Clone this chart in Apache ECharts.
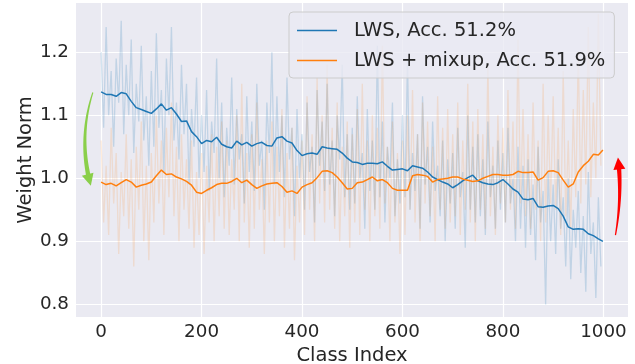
<!DOCTYPE html>
<html>
<head>
<meta charset="utf-8">
<script src="https://cdn.jsdelivr.net/npm/echarts@6/dist/echarts.min.js"></script>
<style>
  html, body { margin: 0; padding: 0; background: #ffffff; }
  #chart { width: 635px; height: 364px; }
</style>
</head>
<body>
<div id="chart"></div>
<script>
// tick labels
var xTicks = [0, 200, 400, 600, 800, 1000];
var yTicks = [0.8, 0.9, 1.0, 1.1, 1.2];

// smoothed weight norms, one value every 10 classes (last one is class 999)
var lwsSmooth = [
  1.137, 1.133, 1.133, 1.130, 1.136, 1.134, 1.122, 1.112, 1.109, 1.106,
  1.103, 1.110, 1.118, 1.108, 1.112, 1.102, 1.090, 1.091, 1.074, 1.066,
  1.055, 1.060, 1.058, 1.065, 1.054, 1.050, 1.048, 1.059, 1.053, 1.057,
  1.051, 1.055, 1.057, 1.052, 1.051, 1.064, 1.066, 1.059, 1.056, 1.044,
  1.036, 1.039, 1.040, 1.038, 1.050, 1.048, 1.047, 1.046, 1.040, 1.032,
  1.026, 1.025, 1.022, 1.024, 1.024, 1.023, 1.026, 1.019, 1.013, 1.014,
  1.015, 1.012, 1.020, 1.018, 1.016, 1.010, 1.002, 0.998, 0.994, 0.991,
  0.985, 0.990, 0.996, 1.001, 1.005, 0.996, 0.993, 0.991, 0.990, 0.993,
  0.998, 0.991, 0.983, 0.978, 0.967, 0.966, 0.968, 0.955, 0.954, 0.956,
  0.957, 0.952, 0.940, 0.923, 0.919, 0.920, 0.919, 0.912, 0.909, 0.904,
  0.900
];
var mixupSmooth = [
  0.994, 0.990, 0.992, 0.988, 0.993, 0.998, 0.994, 0.986, 0.989, 0.991,
  0.994, 1.004, 1.013, 1.006, 1.007, 1.002, 0.999, 0.995, 0.989, 0.978,
  0.976, 0.981, 0.985, 0.990, 0.992, 0.992, 0.995, 1.000, 0.993, 0.997,
  0.990, 0.984, 0.988, 0.991, 0.992, 0.993, 0.987, 0.978, 0.980, 0.976,
  0.986, 0.990, 0.993, 1.001, 1.011, 1.012, 1.009, 1.002, 0.993, 0.983,
  0.984, 0.993, 0.994, 0.998, 1.002, 0.996, 0.998, 0.993, 0.984, 0.981,
  0.981, 0.981, 1.004, 1.006, 1.005, 1.003, 0.994, 0.998, 0.999, 1.000,
  1.002, 1.002, 0.999, 0.997, 0.995, 0.996, 1.000, 1.003, 1.006, 1.006,
  1.005, 1.005, 1.006, 1.011, 1.009, 1.009, 1.010, 0.997, 1.001, 1.011,
  1.012, 1.009, 0.997, 0.986, 0.991, 1.010, 1.020, 1.027, 1.038, 1.037,
  1.045
];

// raw per-class norms (faint lines), one value every 5 classes
var lwsRaw = [
  1.20, 1.08, 1.24, 1.10, 1.17, 1.05, 1.19, 1.12, 1.25, 1.07,
  1.18, 1.10, 1.22, 1.04, 1.15, 1.09, 1.21, 1.06, 1.13, 1.02,
  1.17, 1.05, 1.23, 1.08, 1.14, 1.01, 1.19, 1.10, 1.24, 1.06,
  1.12, 1.03, 1.18, 1.07, 1.15, 0.99, 1.11, 1.05, 1.16, 1.00,
  1.10, 1.01, 1.14, 0.98, 1.09, 1.04, 1.19, 1.00, 1.12, 0.97,
  1.08, 1.02, 1.16, 0.99, 1.11, 1.03, 1.07, 0.96, 1.13, 1.01,
  1.09, 0.98, 1.15, 1.02, 1.06, 0.95, 1.12, 1.04, 1.20, 0.99,
  1.13, 1.01, 1.10, 0.97, 1.16, 1.03, 1.08, 0.94, 1.11, 1.00,
  1.07, 0.95, 1.12, 1.01, 1.05, 0.93, 1.14, 1.02, 1.09, 0.98,
  1.15, 0.99, 1.06, 0.94, 1.10, 1.03, 1.18, 0.97, 1.07, 0.95,
  1.08, 0.96, 1.13, 1.00, 1.04, 0.92, 1.11, 0.98, 1.06, 0.95,
  1.21, 0.97, 1.09, 0.93, 1.05, 1.00, 1.12, 0.94, 1.03, 0.96,
  1.10, 0.97, 1.19, 0.95, 1.04, 0.98, 1.07, 0.92, 1.13, 0.99,
  1.05, 0.93, 1.09, 0.98, 1.02, 0.94, 1.06, 0.90, 1.03, 0.96,
  1.04, 0.92, 1.08, 0.97, 1.01, 0.89, 1.10, 0.95, 1.05, 0.93,
  1.07, 0.94, 1.03, 0.91, 1.09, 0.97, 1.02, 0.92, 1.06, 0.95,
  1.04, 0.93, 1.08, 0.96, 1.00, 0.90, 1.05, 0.92, 1.02, 0.89,
  1.03, 0.91, 0.99, 0.87, 1.05, 0.93, 0.98, 0.80, 1.01, 0.90,
  0.99, 0.88, 1.03, 0.92, 0.97, 0.86, 1.00, 0.84, 0.95, 0.89,
  0.98, 0.85, 0.94, 0.82, 1.01, 0.88, 0.93, 0.81, 0.97, 0.86
];
var mixupRaw = [
  1.06, 0.93, 1.02, 0.91, 1.08, 0.96, 1.04, 0.88, 1.01, 0.94,
  1.07, 0.92, 1.03, 0.86, 1.05, 0.95, 1.09, 0.90, 1.02, 0.87,
  1.04, 0.93, 1.10, 0.96, 1.06, 0.91, 1.08, 0.97, 1.12, 0.94,
  1.05, 0.90, 1.07, 0.95, 1.03, 0.92, 1.06, 0.89, 1.01, 0.91,
  1.04, 0.88, 1.02, 0.93, 1.07, 0.90, 1.05, 0.94, 1.09, 0.92,
  1.06, 0.91, 1.03, 0.95, 1.10, 0.90, 1.15, 0.93, 1.04, 0.89,
  1.07, 0.92, 1.12, 0.95, 1.03, 0.88, 1.06, 0.93, 1.09, 0.90,
  1.05, 0.94, 1.11, 0.89, 1.04, 0.92, 1.08, 0.87, 1.02, 0.93,
  1.06, 0.91, 1.13, 0.95, 1.07, 0.90, 1.16, 0.96, 1.10, 0.93,
  1.18, 0.95, 1.08, 0.92, 1.12, 0.90, 1.05, 0.94, 1.09, 0.89,
  1.07, 0.93, 1.11, 0.91, 1.15, 0.95, 1.06, 0.90, 1.10, 0.94,
  1.08, 0.92, 1.21, 0.96, 1.05, 0.90, 1.09, 0.93, 1.04, 0.88,
  1.06, 0.91, 1.10, 0.95, 1.14, 0.93, 1.07, 0.90, 1.12, 0.96,
  1.09, 0.94, 1.05, 0.90, 1.13, 0.95, 1.08, 0.92, 1.11, 0.93,
  1.07, 0.94, 1.12, 0.91, 1.06, 0.95, 1.15, 0.93, 1.09, 0.90,
  1.11, 0.95, 1.07, 0.92, 1.18, 0.94, 1.05, 0.91, 1.10, 0.96,
  1.08, 0.93, 1.14, 0.95, 1.09, 0.92, 1.22, 0.96, 1.11, 0.94,
  1.07, 0.92, 1.12, 0.95, 1.06, 0.90, 1.15, 0.93, 1.10, 0.96,
  1.13, 0.95, 1.08, 0.91, 1.17, 0.94, 1.06, 0.92, 1.11, 0.97,
  1.20, 0.96, 1.14, 0.99, 1.24, 0.97, 1.12, 1.00, 1.26, 1.02
];

var lastClass = 999;

function toPairs(values, step) {
  return values.map(function (v, k) {
    return [Math.min(k * step, lastClass), v];
  });
}

// annotation arrows in data coordinates: tail, bend (bezier control), tip
var arrows = [
  { color: '#8acf4a', tail: [-16.5, 1.136], ctrl: [-46, 1.063], tip: [-20.5, 0.988] },
  { color: '#ff0000', tail: [1024, 0.910], ctrl: [1038, 0.973], tip: [1029, 1.033] }
];

var dom = document.getElementById('chart');
var myChart = echarts.init(dom, null, { renderer: 'canvas' });
var textColor = '#262626';
var font = 'DejaVu Sans';

var option = {
  animation: false,
  backgroundColor: '#ffffff',
  grid: {
    left: 76,
    right: 7,
    top: 3,
    bottom: 47,
    outerBoundsMode: 'none',
    containLabel: false,
    show: true,
    backgroundColor: '#eaeaf2',
    borderWidth: 0
  },
  legend: {
    data: ['LWS, Acc. 51.2%', 'LWS + mixup, Acc. 51.9%'],
    orient: 'vertical',
    left: 289,
    top: 12,
    padding: [8, 9, 7, 8],
    icon: 'rect',
    itemWidth: 40,
    itemHeight: 1.6,
    itemGap: 9,
    backgroundColor: 'rgba(234,234,242,0.8)',
    borderColor: '#cccccc',
    borderWidth: 1,
    borderRadius: 4,
    textStyle: {
      color: textColor,
      fontFamily: font,
      fontSize: 19.5,
      lineHeight: 21,
      padding: [0, 0, 0, 12]
    }
  },
  xAxis: {
    type: 'value',
    min: -50,
    max: 1049,
    name: 'Class Index',
    nameLocation: 'middle',
    nameGap: 24,
    nameTextStyle: { color: textColor, fontFamily: font, fontSize: 19.5 },
    axisLine: { show: false },
    axisTick: { show: false, customValues: xTicks },
    axisLabel: {
      customValues: xTicks,
      color: textColor,
      fontFamily: font,
      fontSize: 18.3,
      margin: 6,
      formatter: function (v) { return String(v); }
    },
    splitLine: { show: true, lineStyle: { color: '#ffffff', width: 1.2 } }
  },
  yAxis: {
    type: 'value',
    min: 0.780,
    max: 1.278,
    name: 'Weight Norm',
    nameLocation: 'middle',
    nameGap: 40,
    nameMoveOverlap: false,
    nameTextStyle: { color: textColor, fontFamily: font, fontSize: 19.5 },
    axisLine: { show: false },
    axisTick: { show: false, customValues: yTicks },
    axisLabel: {
      customValues: yTicks,
      color: textColor,
      fontFamily: font,
      fontSize: 18.3,
      margin: 7,
      formatter: function (v) { return v.toFixed(1); }
    },
    splitLine: { show: true, lineStyle: { color: '#ffffff', width: 1.2 } }
  },
  series: [
    {
      name: 'lws raw',
      type: 'line',
      data: toPairs(lwsRaw, 5),
      symbol: 'none',
      silent: true,
      lineStyle: { color: 'rgba(31,119,180,0.2)', width: 1.3 },
      z: 1
    },
    {
      name: 'mixup raw',
      type: 'line',
      data: toPairs(mixupRaw, 5),
      symbol: 'none',
      silent: true,
      lineStyle: { color: 'rgba(255,127,14,0.15)', width: 1.3 },
      z: 1
    },
    {
      name: 'LWS, Acc. 51.2%',
      type: 'line',
      data: toPairs(lwsSmooth, 10),
      symbol: 'none',
      color: '#1f77b4',
      lineStyle: { color: '#1f77b4', width: 1.5 },
      z: 3
    },
    {
      name: 'LWS + mixup, Acc. 51.9%',
      type: 'line',
      data: toPairs(mixupSmooth, 10),
      symbol: 'none',
      color: '#ff7f0e',
      lineStyle: { color: '#ff7f0e', width: 1.5 },
      z: 3
    }
  ]
};

myChart.setOption(option);

// tapered curved arrows, placed through the chart's own coordinate conversion
function arrowGraphic(a) {
  var p0 = myChart.convertToPixel({ gridIndex: 0 }, a.tail);
  var p1 = myChart.convertToPixel({ gridIndex: 0 }, a.ctrl);
  var p2 = myChart.convertToPixel({ gridIndex: 0 }, a.tip);
  var headLen = 12, headHalf = 6;
  function pt(t) {
    var u = 1 - t;
    return [u * u * p0[0] + 2 * u * t * p1[0] + t * t * p2[0],
            u * u * p0[1] + 2 * u * t * p1[1] + t * t * p2[1]];
  }
  function tan(t) {
    var dx = 2 * (1 - t) * (p1[0] - p0[0]) + 2 * t * (p2[0] - p1[0]);
    var dy = 2 * (1 - t) * (p1[1] - p0[1]) + 2 * t * (p2[1] - p1[1]);
    var l = Math.sqrt(dx * dx + dy * dy);
    return [dx / l, dy / l];
  }
  // body ends where the head starts
  var total = 0, prev = p0, n = 40, i;
  for (i = 1; i <= n; i++) { var q = pt(i / n); total += Math.hypot(q[0] - prev[0], q[1] - prev[1]); prev = q; }
  var tEnd = 1 - (headLen - 1) / total;
  var left = [], right = [];
  for (i = 0; i <= n; i++) {
    var t = tEnd * i / n;
    var c = pt(t), d = tan(t);
    var w = 0.6 + 1.6 * (i / n);
    left.push([c[0] - d[1] * w, c[1] + d[0] * w]);
    right.unshift([c[0] + d[1] * w, c[1] - d[0] * w]);
  }
  var dEnd = tan(1);
  var base = [p2[0] - dEnd[0] * headLen, p2[1] - dEnd[1] * headLen];
  var head = [
    [base[0] - dEnd[1] * headHalf, base[1] + dEnd[0] * headHalf],
    [p2[0], p2[1]],
    [base[0] + dEnd[1] * headHalf, base[1] - dEnd[0] * headHalf]
  ];
  return [
    { type: 'polygon', shape: { points: left.concat(right) }, style: { fill: a.color }, z: 10, silent: true },
    { type: 'polygon', shape: { points: head }, style: { fill: a.color }, z: 10, silent: true }
  ];
}

var elements = [];
arrows.forEach(function (a) { elements = elements.concat(arrowGraphic(a)); });
myChart.setOption({ graphic: { elements: elements } });
</script>
</body>
</html>
